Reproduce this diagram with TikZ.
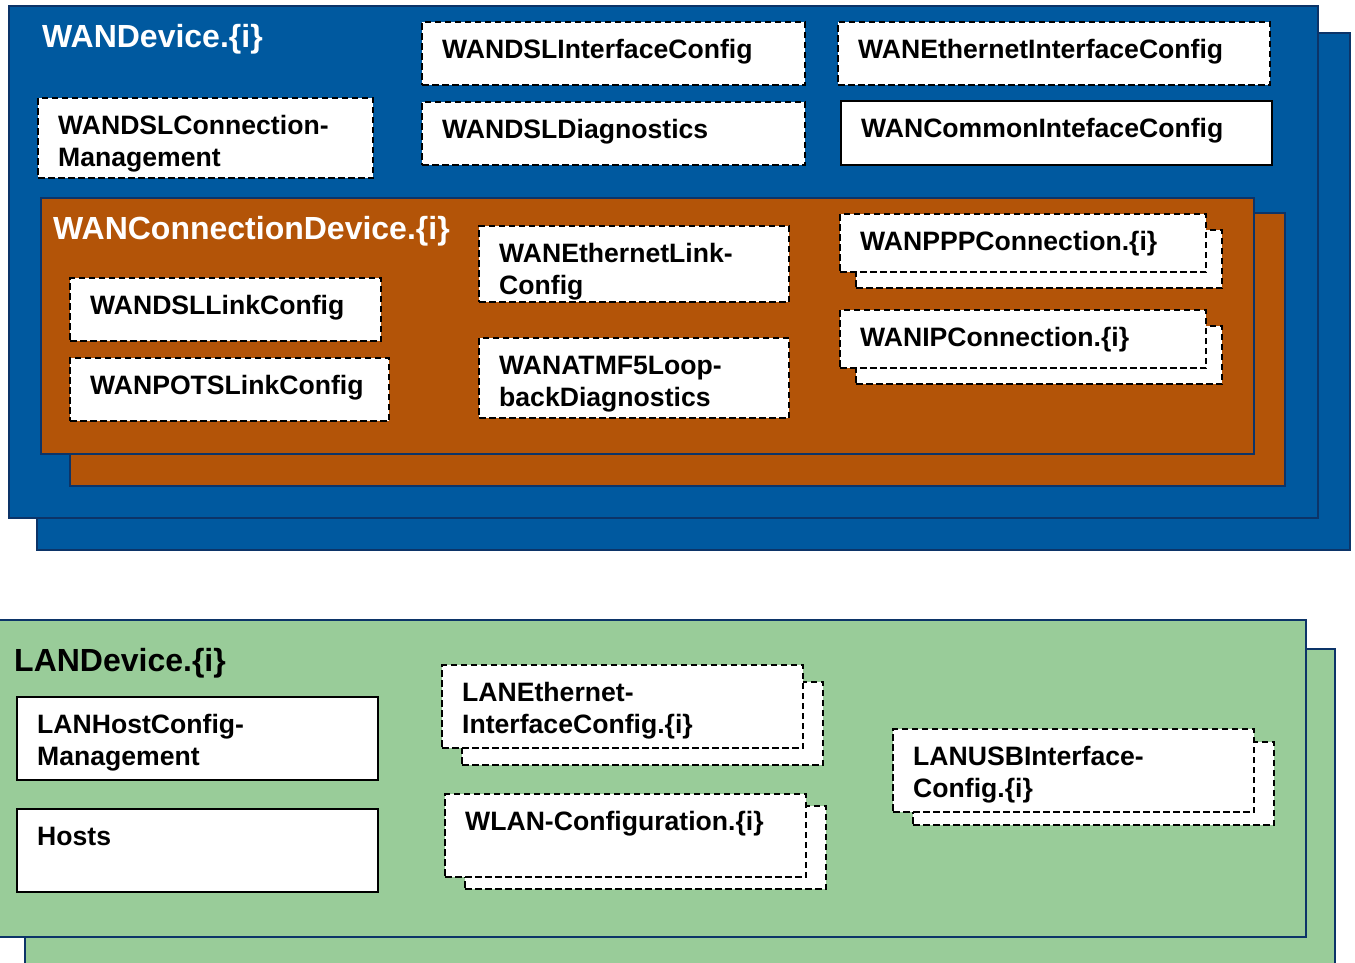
\documentclass[tikz,border=0pt]{standalone}
\usepackage{fontspec}
\setmainfont{Liberation Sans}
\definecolor{wanblue}{RGB}{0,89,159}
\definecolor{panelframe}{RGB}{12,52,104}
\definecolor{conorange}{RGB}{179,84,8}
\definecolor{langreen}{RGB}{153,204,153}
\tikzset{
  panel/.style={draw=panelframe, line width=1.6pt, rectangle, inner sep=0pt, outer sep=0pt},
  dbox/.style={draw=black, fill=white, dash pattern=on 6.5pt off 3.5pt, line width=2pt, inner sep=0pt, outer sep=0pt},
  sbox/.style={draw=black, fill=white, line width=2pt, inner sep=0pt, outer sep=0pt},
  btxt/.style={font=\fontsize{26.6}{32}\selectfont\bfseries, inner sep=0pt, align=left, text=black},
  ttl/.style={font=\fontsize{32}{38}\selectfont\bfseries, inner sep=0pt},
}
% rectangle from (x1,y1) to (x2,y2): name, x1, y1, x2, y2, style
\newcommand\rectnode[6]{%
  \node[#6, anchor=north west, minimum width={(#4)-(#2)}, minimum height={(#5)-(#3)}] (#1) at (#2,#3) {};}
% object box with its label: name, x1, y1, x2, y2, style, text
% (the strut fixes the top of the first line 24pt above its baseline)
\newcommand\objbox[7]{%
  \rectnode{#1}{#2}{#3}{#4}{#5}{#6}
  \node[btxt, anchor=north west] (#1-t) at ([shift={(20,12)}]#1.north west) {\rule{0pt}{24pt}#7};}
% multi-instance object: a second dashed box behind, shifted by (dx,dy)
\newcommand\multibox[8]{%
  \rectnode{#1-b}{#2+#6}{#3+#7}{#4+#6}{#5+#7}{dbox}
  \objbox{#1}{#2}{#3}{#4}{#5}{dbox}{#8}}
\begin{document}
\begin{tikzpicture}[x=1pt, y=-1pt]
\useasboundingbox (0,0) rectangle (1355,962);

% ---- WANDevice ----
\rectnode{wan-b}{37}{33}{1350}{550}{panel, fill=wanblue}
\rectnode{wan}{9}{6}{1318}{518}{panel, fill=wanblue}
\node[ttl, text=white, anchor=base west] (wan-title) at (42,47) {WANDevice.\{i\}};

\objbox{dslif}{422}{22}{805}{85}{dbox}{WANDSLInterfaceConfig}
\objbox{ethif}{838}{22}{1270}{85}{dbox}{WANEthernetInterfaceConfig}
\objbox{dslcm}{38}{98}{373}{178}{dbox}{WANDSLConnection-\\Management}
\objbox{dsldiag}{422}{102}{805}{165}{dbox}{WANDSLDiagnostics}
\objbox{common}{841}{101}{1272}{165}{sbox}{WANCommonIntefaceConfig}

% ---- WANConnectionDevice ----
\rectnode{wcd-b}{70}{213}{1285}{486}{panel, fill=conorange}
\rectnode{wcd}{41}{198}{1254}{454}{panel, fill=conorange}
\node[ttl, text=white, anchor=base west] (wcd-title) at (53,239) {WANConnectionDevice.\{i\}};

\objbox{dsllink}{70}{278}{381}{341}{dbox}{WANDSLLinkConfig}
\objbox{potslink}{70}{358}{389}{421}{dbox}{WANPOTSLinkConfig}
\objbox{ethlink}{479}{226}{789}{302}{dbox}{WANEthernetLink-\\Config}
\objbox{atmf5}{479}{338}{789}{418}{dbox}{WANATMF5Loop-\\backDiagnostics}
\multibox{ppp}{840}{214}{1206}{272}{16}{16}{WANPPPConnection.\{i\}}
\multibox{ip}{840}{310}{1206}{368}{16}{16}{WANIPConnection.\{i\}}

% ---- LANDevice ----
\rectnode{lan-b}{25}{649}{1335}{975}{panel, fill=langreen}
\rectnode{lan}{-5}{620}{1306}{937}{panel, fill=langreen}
\node[ttl, text=black, anchor=base west] (lan-title) at (14,671) {LANDevice.\{i\}};

\objbox{hostcfg}{17}{697}{378}{780}{sbox}{LANHostConfig-\\Management}
\objbox{hosts}{17}{809}{378}{892}{sbox}{Hosts}
\multibox{lanether}{442}{665}{803}{748}{20}{17}{LANEthernet-\\InterfaceConfig.\{i\}}
\multibox{wlan}{445}{794}{806}{877}{20}{12}{WLAN-Configuration.\{i\}}
\multibox{usb}{893}{729}{1254}{812}{20}{13}{LANUSBInterface-\\Config.\{i\}}
\end{tikzpicture}
\end{document}
